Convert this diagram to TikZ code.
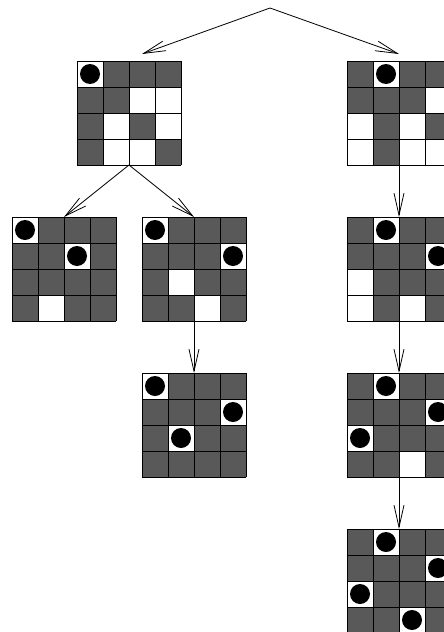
\documentclass[tikz,border=0pt]{standalone}
\usetikzlibrary{arrows.meta, positioning}

% board macro: node name, free cells (row/col), queens (row/col)
\newcommand{\board}[3]{%
  \begin{scope}[shift={(#1.north west)}, x=26pt, y=-26pt]
    \fill[taken] (0,0) rectangle (4,4);
    \foreach \r/\c in {#2} \fill[white] (\c,\r) rectangle ++(1,1);
    \foreach \r/\c in {#3} {
      \fill[white] (\c,\r) rectangle ++(1,1);
      \fill[black] (\c+0.5,\r+0.5) circle (10pt);
    }
    \foreach \i in {0,...,4} {
      \draw[cellline] (\i,0) -- (\i,4);
      \draw[cellline] (0,\i) -- (4,\i);
    }
  \end{scope}
}

\begin{document}
\begin{tikzpicture}[
    x=1pt, y=-1pt,
    boardnode/.style={rectangle, minimum size=104pt, inner sep=0pt, outer sep=0pt},
    taken/.style={fill=black!65},
    cellline/.style={black, line width=0.6pt},
    arr/.style={-{Straight Barb[length=22pt, width=10pt]}, line width=0.8pt}
]
    \useasboundingbox (0,0) rectangle (444,632);
    \clip (0,0) rectangle (444,632);

    \coordinate (root) at (270,8);
    \node[boardnode] (A) at (129,113) {};
    \node[boardnode] (B) at (399,113) {};
    \node[boardnode] (C) at (64,269) {};
    \node[boardnode] (D) at (194,269) {};
    \node[boardnode] (E) at (194,425) {};
    \node[boardnode] (F) at (399,269) {};
    \node[boardnode] (G) at (399,425) {};
    \node[boardnode] (H) at (399,581) {};

    \board{A}{1/2,1/3,2/1,2/3,3/1,3/2}{0/0}
    \board{B}{1/3,2/0,2/2,3/0,3/2,3/3}{0/1}
    \board{C}{3/1}{0/0,1/2}
    \board{D}{2/1,3/2}{0/0,1/3}
    \board{E}{}{0/0,1/3,2/1}
    \board{F}{2/0,3/0,3/2}{0/1,1/3}
    \board{G}{3/2}{0/1,1/3,2/0}
    \board{H}{}{0/1,1/3,2/0,3/2}

    \draw[arr] (root) -- ([xshift=13pt, yshift=7pt]A.north);
    \draw[arr] (root) -- ([yshift=7pt]B.north);
    \draw[arr] (A.south) -- (C.north);
    \draw[arr] (A.south) -- (D.north);
    \draw[arr] (D.south) -- (E.north);
    \draw[arr] (B.south) -- (F.north);
    \draw[arr] (F.south) -- (G.north);
    \draw[arr] (G.south) -- (H.north);
\end{tikzpicture}
\end{document}
